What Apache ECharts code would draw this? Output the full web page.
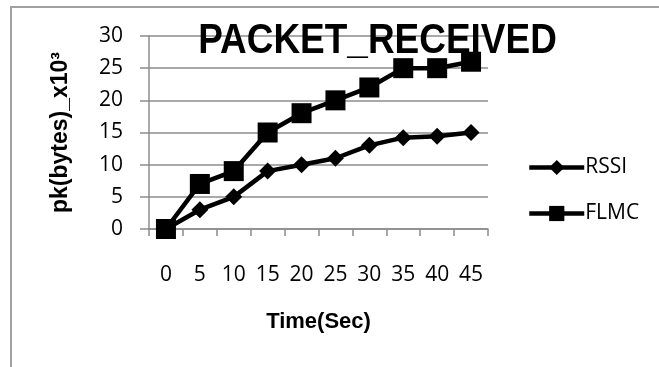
<!DOCTYPE html>
<html>
<head>
<meta charset="utf-8">
<style>
  html, body { margin: 0; padding: 0; background: #fff; }
  #chart { width: 659px; height: 367px; }
</style>
<script src="https://cdn.jsdelivr.net/npm/echarts@6/dist/echarts.min.js"></script>
</head>
<body>
<div id="chart"></div>
<script>
// Time steps (seconds) along the x axis
const timeLabels = ['0', '5', '10', '15', '20', '25', '30', '35', '40', '45'];
// Packets received, in thousands of bytes
const rssiValues = [0, 3, 5, 9, 10, 11, 13, 14.2, 14.4, 15];
const flmcValues = [0, 7, 9, 15, 18, 20, 22, 25, 25, 26];
// Value axis ticks
const yMin = 0, yMax = 30, yStep = 5;
const chartTitle = 'PACKET_RECEIVED';

const tickFont = '"Open Sans", "Liberation Sans", sans-serif';
const boldFont = '"Liberation Sans", Arial, sans-serif';
const gridGray = '#8c8c8c';

const chart = echarts.init(document.getElementById('chart'), null, { renderer: 'canvas' });

chart.setOption({
  animation: false,
  backgroundColor: '#ffffff',
  graphic: [
    {
      // outer frame of the chart area
      type: 'rect',
      silent: true,
      z: -1,
      shape: { x: 11, y: 7, width: 720, height: 420 },
      style: { fill: 'none', stroke: '#a0a0a0', lineWidth: 2 }
    },
    {
      // condensed bold heading
      type: 'text',
      silent: true,
      z: 100,
      x: 377.5,
      y: 41,
      scaleX: 0.88,
      style: {
        text: chartTitle,
        align: 'center',
        verticalAlign: 'middle',
        fontFamily: '"Liberation Sans", Arial, sans-serif',
        fontWeight: 'bold',
        fontSize: 42,
        fill: '#000'
      }
    }
  ],
  legend: {
    orient: 'vertical',
    left: 522,
    top: 152,
    itemWidth: 55,
    itemHeight: 19,
    itemGap: 25,
    lineStyle: { width: 4.5, color: '#000' },
    textStyle: { fontFamily: tickFont, fontSize: 21, color: '#000', padding: [0, 0, 0, -4] },
    data: ['RSSI', 'FLMC']
  },
  grid: { left: 149, right: 171, top: 36, bottom: 138 },
  xAxis: {
    type: 'category',
    data: timeLabels,
    boundaryGap: true,
    name: 'Time(Sec)',
    nameLocation: 'middle',
    nameGap: 82,
    nameTextStyle: { fontFamily: boldFont, fontWeight: 'bold', fontSize: 22, color: '#000' },
    axisLine: { lineStyle: { color: gridGray, width: 1.5 } },
    axisTick: { show: true, interval: 0, length: 7, lineStyle: { color: gridGray, width: 1.5 } },
    axisLabel: { interval: 0, margin: 36, fontFamily: tickFont, fontSize: 21, color: '#000' }
  },
  yAxis: {
    type: 'value',
    min: yMin,
    max: yMax,
    interval: yStep,
    name: 'pk(bytes)_x10³',
    nameLocation: 'middle',
    nameGap: 77,
    nameTextStyle: { fontFamily: boldFont, fontWeight: 'bold', fontSize: 23, color: '#000' },
    axisLine: { show: true, lineStyle: { color: gridGray, width: 1.5 } },
    axisTick: { show: true, length: 9, lineStyle: { color: gridGray, width: 1.5 } },
    axisLabel: { margin: 26, fontFamily: tickFont, fontSize: 21, color: '#000' },
    splitLine: { show: true, lineStyle: { color: gridGray, width: 1.5 } }
  },
  series: [
    {
      name: 'RSSI',
      type: 'line',
      data: rssiValues,
      symbol: 'diamond',
      symbolSize: 17,
      lineStyle: { color: '#000', width: 4.5 },
      itemStyle: { color: '#000' }
    },
    {
      name: 'FLMC',
      type: 'line',
      data: flmcValues,
      symbol: 'rect',
      symbolSize: 20,
      lineStyle: { color: '#000', width: 4.5 },
      itemStyle: { color: '#000' }
    }
  ]
});
</script>
</body>
</html>
